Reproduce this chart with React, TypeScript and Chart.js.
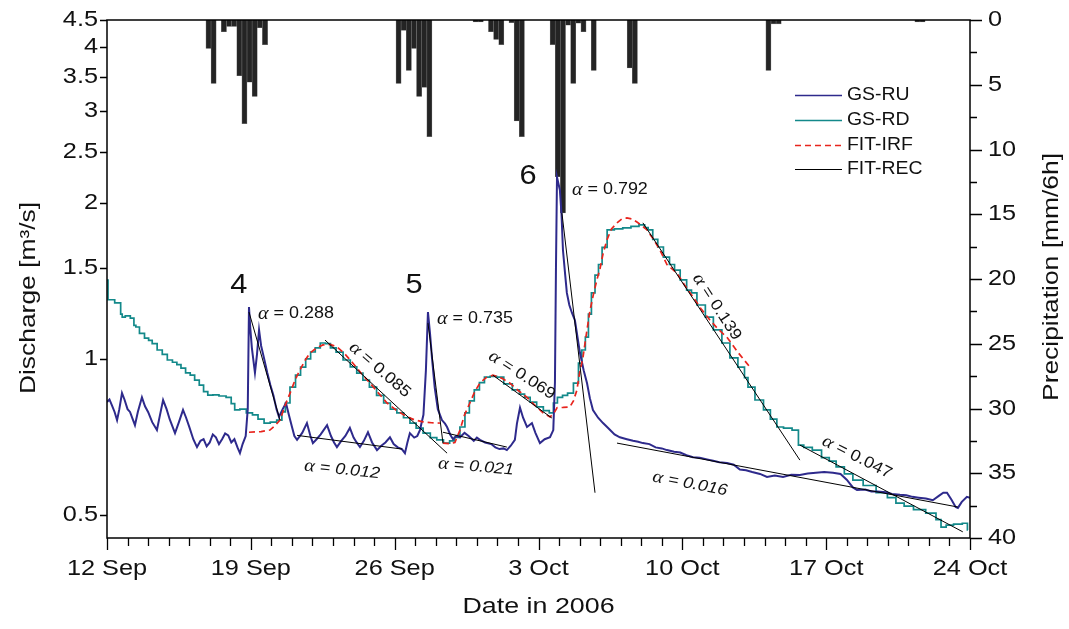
import React, { useEffect, useRef } from "react";
import { Chart, registerables } from "chart.js";

Chart.register(...registerables);

// ---- axes (x = days after 12 Sep 2006) ----
const dateTickDays = [0, 7, 14, 21, 28, 35, 42];
const dateTickLabels = ["12 Sep", "19 Sep", "26 Sep", "3 Oct", "10 Oct", "17 Oct", "24 Oct"];
const dischargeTicks = [0.5, 1, 1.5, 2, 2.5, 3, 3.5, 4, 4.5];
const precipTicks = [0, 5, 10, 15, 20, 25, 30, 35, 40];

// ---- precipitation [mm/6h] ----
const precipDays = [4.94, 5.19, 5.69, 5.94, 6.19, 6.44, 6.69, 6.94, 7.19, 7.44, 7.69,
  14.19, 14.44, 14.69, 14.94, 15.19, 15.44, 15.69,
  17.94, 18.19, 18.69, 18.94, 19.19, 19.69, 19.94, 20.19,
  21.69, 21.94, 22.19, 22.44, 22.69, 22.94, 23.19, 23.69,
  25.44, 25.69, 32.19, 32.44, 32.69, 39.44, 39.69];
const precipMm = [2.2, 4.9, 0.9, 0.5, 0.5, 4.3, 8.0, 4.8, 5.9, 0.6, 1.9,
  4.9, 0.8, 3.9, 2.2, 5.9, 5.2, 9.0,
  0.15, 0.15, 0.9, 1.5, 1.9, 0.2, 7.8, 9.0,
  1.9, 12.1, 14.9, 0.4, 4.9, 0.25, 0.9, 3.9,
  3.7, 4.9, 3.9, 0.3, 0.3, 0.15, 0.15];

// ---- GS-RU discharge ----
const ruDays = [0.00, 0.12, 0.25, 0.37, 0.49, 0.60, 0.73, 0.85, 1.00, 1.12, 1.25, 1.36, 1.50, 1.70, 1.85, 2.00, 2.20, 2.43, 2.58, 2.73, 2.90, 3.05, 3.31, 3.50, 3.70, 3.85, 4.00, 4.20, 4.38, 4.55, 4.70, 4.85, 5.00, 5.15, 5.30, 5.45, 5.60, 5.75, 5.90, 6.05, 6.20, 6.35, 6.47, 6.60, 6.75, 6.85, 6.91, 6.97, 7.05, 7.20, 7.30, 7.40, 7.50, 7.65, 7.80, 7.95, 8.10, 8.25, 8.37, 8.55, 8.71, 8.85, 9.00, 9.12, 9.25, 9.50, 9.73, 9.90, 10.02, 10.20, 10.40, 10.71, 10.90, 11.05, 11.19, 11.40, 11.60, 11.82, 12.00, 12.15, 12.31, 12.50, 12.70, 12.90, 13.14, 13.35, 13.55, 13.77, 13.95, 14.15, 14.35, 14.50, 14.62, 14.74, 14.95, 15.10, 15.23, 15.40, 15.52, 15.62, 15.72, 15.82, 15.95, 16.10, 16.30, 16.45, 16.55, 16.70, 16.84, 17.00, 17.18, 17.40, 17.60, 17.85, 18.00, 18.15, 18.40, 18.70, 18.90, 19.10, 19.30, 19.46, 19.65, 19.85, 19.95, 20.10, 20.25, 20.44, 20.55, 20.68, 20.85, 21.07, 21.30, 21.56, 21.72, 21.80, 21.85, 21.90, 22.04, 22.12, 22.19, 22.30, 22.38, 22.50, 22.63, 22.77, 22.90, 23.02, 23.20, 23.36, 23.50, 23.65, 23.90, 24.14, 24.40, 24.70, 24.96, 25.30, 25.60, 25.85, 26.08, 26.40, 26.70, 27.00, 27.25, 27.60, 27.90, 28.20, 28.52, 28.85, 29.20, 29.50, 29.80, 30.17, 30.50, 30.80, 31.10, 31.40, 31.78, 32.12, 32.50, 32.90, 33.30, 33.72, 34.10, 34.50, 34.90, 35.33, 35.70, 36.00, 36.30, 36.50, 36.90, 37.20, 37.50, 37.90, 38.20, 38.59, 38.90, 39.20, 39.50, 39.85, 40.19, 40.50, 40.70, 40.88, 41.10, 41.30, 41.41, 41.60, 41.85, 42.00];
const ruQ = [0.826, 0.835, 0.812, 0.790, 0.762, 0.800, 0.859, 0.835, 0.800, 0.790, 0.765, 0.745, 0.790, 0.843, 0.810, 0.790, 0.755, 0.729, 0.780, 0.833, 0.800, 0.765, 0.719, 0.755, 0.797, 0.770, 0.740, 0.700, 0.676, 0.695, 0.700, 0.678, 0.690, 0.715, 0.706, 0.685, 0.700, 0.718, 0.712, 0.690, 0.700, 0.675, 0.658, 0.685, 0.710, 0.800, 1.259, 1.150, 1.050, 0.940, 1.020, 1.137, 1.060, 1.000, 0.940, 0.890, 0.850, 0.800, 0.773, 0.800, 0.822, 0.780, 0.740, 0.710, 0.698, 0.720, 0.752, 0.710, 0.688, 0.700, 0.715, 0.745, 0.710, 0.690, 0.676, 0.695, 0.710, 0.736, 0.705, 0.690, 0.676, 0.695, 0.722, 0.690, 0.667, 0.680, 0.690, 0.706, 0.685, 0.675, 0.670, 0.658, 0.690, 0.719, 0.705, 0.710, 0.729, 0.780, 0.950, 1.231, 1.120, 1.000, 0.880, 0.800, 0.762, 0.750, 0.739, 0.715, 0.700, 0.710, 0.706, 0.720, 0.710, 0.695, 0.705, 0.698, 0.690, 0.685, 0.675, 0.670, 0.672, 0.667, 0.680, 0.698, 0.750, 0.805, 0.770, 0.739, 0.745, 0.752, 0.720, 0.688, 0.700, 0.706, 0.729, 0.900, 1.500, 2.240, 2.116, 1.900, 1.621, 1.450, 1.340, 1.270, 1.226, 1.188, 1.100, 1.026, 0.950, 0.898, 0.840, 0.797, 0.770, 0.752, 0.735, 0.715, 0.706, 0.700, 0.695, 0.692, 0.688, 0.685, 0.675, 0.672, 0.667, 0.662, 0.660, 0.652, 0.646, 0.645, 0.640, 0.636, 0.632, 0.630, 0.625, 0.612, 0.610, 0.605, 0.600, 0.592, 0.596, 0.592, 0.598, 0.597, 0.601, 0.603, 0.605, 0.603, 0.600, 0.585, 0.565, 0.559, 0.560, 0.555, 0.555, 0.553, 0.549, 0.547, 0.546, 0.542, 0.540, 0.538, 0.534, 0.545, 0.552, 0.552, 0.535, 0.518, 0.516, 0.530, 0.542, 0.540];

// ---- GS-RD discharge ----
const rdDays = [0.00, 0.10, 0.30, 0.45, 0.63, 0.70, 0.78, 1.00, 1.27, 1.35, 1.46, 1.70, 1.95, 2.10, 2.30, 2.58, 2.80, 3.07, 3.30, 3.50, 3.70, 3.95, 4.15, 4.38, 4.60, 4.80, 5.01, 5.30, 5.60, 5.99, 6.10, 6.33, 6.60, 6.96, 7.20, 7.50, 7.79, 8.10, 8.42, 8.60, 8.76, 9.05, 9.30, 9.54, 9.80, 10.02, 10.25, 10.51, 10.75, 11.00, 11.30, 11.68, 12.00, 12.31, 12.60, 12.94, 13.30, 13.63, 13.95, 14.26, 14.60, 14.89, 15.20, 15.57, 15.90, 16.20, 16.55, 16.80, 17.03, 17.32, 17.52, 17.75, 18.00, 18.25, 18.49, 18.80, 19.12, 19.50, 19.95, 20.20, 20.44, 20.75, 21.07, 21.40, 21.65, 21.80, 22.04, 22.30, 22.53, 22.87, 23.02, 23.20, 23.36, 23.50, 23.65, 23.85, 23.99, 24.20, 24.48, 24.90, 25.30, 25.70, 26.08, 26.25, 26.42, 26.70, 26.91, 27.25, 27.50, 27.74, 28.05, 28.37, 28.52, 28.90, 29.34, 29.68, 30.17, 30.46, 30.95, 31.10, 31.29, 31.78, 32.12, 32.45, 32.75, 33.10, 33.58, 33.72, 34.10, 34.55, 35.00, 35.30, 35.67, 36.10, 36.50, 37.10, 37.76, 38.20, 38.59, 39.00, 39.50, 40.19, 40.50, 40.68, 41.00, 41.40, 41.85, 41.90];
const rdQ = [1.419, 1.300, 1.300, 1.282, 1.282, 1.220, 1.204, 1.210, 1.198, 1.160, 1.152, 1.120, 1.096, 1.085, 1.070, 1.040, 1.020, 0.995, 0.985, 0.975, 0.960, 0.940, 0.930, 0.910, 0.890, 0.865, 0.851, 0.852, 0.848, 0.843, 0.820, 0.797, 0.800, 0.787, 0.780, 0.765, 0.752, 0.755, 0.762, 0.790, 0.822, 0.882, 0.930, 0.964, 1.000, 1.031, 1.050, 1.073, 1.070, 1.050, 1.030, 0.995, 0.965, 0.939, 0.910, 0.882, 0.850, 0.822, 0.800, 0.787, 0.770, 0.752, 0.735, 0.719, 0.705, 0.698, 0.688, 0.695, 0.706, 0.739, 0.787, 0.830, 0.871, 0.900, 0.922, 0.925, 0.922, 0.895, 0.871, 0.855, 0.843, 0.825, 0.808, 0.795, 0.787, 0.822, 0.843, 0.850, 0.859, 0.898, 0.981, 1.040, 1.101, 1.220, 1.340, 1.450, 1.520, 1.640, 1.772, 1.780, 1.788, 1.800, 1.812, 1.790, 1.772, 1.700, 1.643, 1.571, 1.520, 1.483, 1.420, 1.357, 1.340, 1.270, 1.204, 1.137, 1.073, 1.004, 0.964, 0.920, 0.882, 0.833, 0.797, 0.765, 0.739, 0.735, 0.729, 0.682, 0.675, 0.667, 0.645, 0.635, 0.619, 0.600, 0.584, 0.570, 0.552, 0.540, 0.527, 0.520, 0.512, 0.504, 0.490, 0.474, 0.478, 0.480, 0.482, 0.468];

// ---- FIT-IRF (null = break between events) ----
const irfDays = [6.91, 7.50, 7.93, 8.20, 8.42, 8.65, 8.91, 9.15, 9.39, 9.65, 9.88, 10.20, 10.51, 10.85, 11.19, 11.55, 11.97, 12.40, 12.80, 13.20, 13.63, 14.10, 14.60, 15.00, 15.38, 15.80, 16.20, 16.28,
  16.35, 16.70, 16.93, 17.18, 17.40, 17.66, 17.90, 18.15, 18.45, 18.78, 19.20, 19.61, 20.00, 20.44, 20.85, 21.22, 21.56, 21.75, 21.90, 22.20, 22.53, 22.70, 22.87, 23.00, 23.16, 23.32, 23.50, 23.67, 23.84, 23.99, 24.15, 24.33, 24.55, 24.82, 25.05, 25.30, 25.55, 25.79, 26.08, 26.28, 26.60, 26.91, 27.25, 27.74, 28.10, 28.52, 28.90, 29.34, 29.75, 30.17, 30.70, 31.29];
const irfQ = [0.722, 0.724, 0.729, 0.745, 0.762, 0.810, 0.859, 0.910, 0.952, 0.995, 1.026, 1.050, 1.064, 1.066, 1.055, 1.025, 0.981, 0.935, 0.898, 0.860, 0.822, 0.795, 0.773, 0.762, 0.756, 0.753, 0.752, null,
  0.688, 0.686, 0.690, 0.729, 0.780, 0.822, 0.865, 0.898, 0.920, 0.930, 0.918, 0.898, 0.870, 0.843, 0.812, 0.787, 0.773, 0.785, 0.805, 0.806, 0.808, 0.830, 0.871, 0.940, 1.004, 1.110, 1.236, 1.330, 1.419, 1.490, 1.600, 1.695, 1.780, 1.829, 1.860, 1.869, 1.860, 1.836, 1.800, 1.772, 1.700, 1.621, 1.520, 1.463, 1.390, 1.316, 1.250, 1.188, 1.140, 1.101, 1.030, 0.964];

// ---- FIT-REC recession lines (start -> end) ----
const recStartDay = [6.91, 9.25, 10.61, 15.62, 16.35, 18.78, 22.14, 26.08, 24.82, 33.72];
const recStartQ = [1.231, 0.712, 1.087, 1.172, 0.722, 0.930, 1.910, 1.829, 0.688, 0.682];
const recEndDay = [8.42, 14.36, 16.55, 16.35, 19.46, 21.65, 23.75, 33.72, 41.41, 41.65];
const recEndQ = [0.762, 0.670, 0.658, 0.688, 0.676, 0.769, 0.552, 0.638, 0.518, 0.464];

// ---- annotations ----
const eventNames = ["4", "5", "6"];
const eventDays = [6.42, 14.94, 20.49];
const eventQ = [1.388, 1.388, 2.25];

const alphaValues = ["0.288", "0.735", "0.792", "0.085", "0.012", "0.021", "0.069", "0.016", "0.139", "0.047"];
const alphaDays = [7.35, 16.06, 22.63, 13.28, 11.44, 17.96, 20.19, 28.37, 29.68, 36.50];
const alphaQ = [1.22, 1.194, 2.116, 0.952, 0.611, 0.619, 0.930, 0.574, 1.259, 0.646];
const alphaAngles = [0, 0, 0, 41, 6, 5, 33, 11, 57, 27];
const alphaItalic = [false, false, false, false, true, true, false, true, false, false];
const alphaCentered = [false, false, false, true, true, true, true, true, true, true];

const seriesNames = ["GS-RU", "GS-RD", "FIT-IRF", "FIT-REC"];

const NAVY = "#2e2a8c";
const TEAL = "#13898a";
const RED = "#e8241d";
const INK = "#111111";
const SANS = '"Liberation Sans", Arial, sans-serif';

function txt(ctx: CanvasRenderingContext2D, s: string, x: number, y: number, size: number, o: any = {}) {
  const { sx = 1.15, align = "center", baseline = "middle", angle = 0, italic = false } = o;
  ctx.save();
  ctx.translate(x, y);
  if (angle) ctx.rotate(angle);
  ctx.scale(sx, 1);
  ctx.font = `${italic ? "italic " : ""}${size}px ${SANS}`;
  ctx.textAlign = align;
  ctx.textBaseline = baseline;
  ctx.fillStyle = INK;
  ctx.fillText(s, 0, 0);
  ctx.restore();
}

function alphaLabel(ctx: CanvasRenderingContext2D, val: string, x: number, y: number, size: number, angleDeg: number, italic: boolean, centered: boolean) {
  ctx.save();
  ctx.translate(x, y);
  ctx.rotate((angleDeg * Math.PI) / 180);
  ctx.scale(1.12, 1);
  const fa = `italic ${Math.round(size * 1.15)}px "Liberation Serif", serif`;
  const fr = `${italic ? "italic " : ""}${size}px ${SANS}`;
  ctx.font = fa;
  const wa = ctx.measureText("α").width;
  const rest = " = " + val;
  ctx.font = fr;
  const wr = ctx.measureText(rest).width;
  const x0 = centered ? -(wa + wr) / 2 : 0;
  ctx.textBaseline = "middle";
  ctx.textAlign = "left";
  ctx.fillStyle = INK;
  ctx.font = fa;
  ctx.fillText("α", x0, 0);
  ctx.font = fr;
  ctx.fillText(rest, x0 + wa, 0);
  ctx.restore();
}

const framePlugin = {
  id: "frame",
  afterDraw(chart: any) {
    const { ctx, chartArea: a, scales } = chart;
    const sx = scales.x, sy = scales.y, sp = scales.yP;
    ctx.save();
    ctx.strokeStyle = "#000";
    ctx.lineWidth = 1.5;
    ctx.strokeRect(a.left, a.top, a.right - a.left, a.bottom - a.top);

    // x ticks (daily minor, weekly major)
    ctx.lineWidth = 1.3;
    ctx.beginPath();
    for (let d = 0; d <= 42; d++) {
      const px = Math.round(sx.getPixelForValue(d)) + 0.5;
      const len = d % 7 === 0 ? 12 : 8;
      ctx.moveTo(px, a.bottom);
      ctx.lineTo(px, a.bottom + len);
    }
    // left ticks
    dischargeTicks.forEach((v) => {
      const py = Math.round(sy.getPixelForValue(v)) + 0.5;
      ctx.moveTo(a.left, py);
      ctx.lineTo(a.left - 7, py);
    });
    // right ticks
    for (let v = 0; v <= 40; v += 2.5) {
      const py = Math.round(sp.getPixelForValue(v)) + 0.5;
      const len = v % 5 === 0 ? 12 : 7;
      ctx.moveTo(a.right, py);
      ctx.lineTo(a.right + len, py);
    }
    ctx.stroke();

    // tick labels
    dateTickDays.forEach((d, i) => txt(ctx, dateTickLabels[i], sx.getPixelForValue(d), a.bottom + 31, 22));
    dischargeTicks.forEach((v) => txt(ctx, String(v), a.left - 9, sy.getPixelForValue(v), 22, { align: "right" }));
    precipTicks.forEach((v) => txt(ctx, String(v), a.right + 18, sp.getPixelForValue(v), 22, { align: "left" }));

    // axis titles
    txt(ctx, "Date in 2006", (a.left + a.right) / 2, a.bottom + 69, 22, { sx: 1.22 });
    txt(ctx, "Discharge [m³/s]", 29, 298, 22, { angle: -Math.PI / 2, sx: 1.2 });
    txt(ctx, "Precipitation [mm/6h]", 1052, 277, 22, { angle: -Math.PI / 2, sx: 1.2 });

    // event numbers
    eventNames.forEach((n, i) => txt(ctx, n, sx.getPixelForValue(eventDays[i]), sy.getPixelForValue(eventQ[i]), 28, { sx: 1.1 }));

    // recession coefficients
    alphaValues.forEach((v, i) =>
      alphaLabel(ctx, v, sx.getPixelForValue(alphaDays[i]), sy.getPixelForValue(alphaQ[i]), 16, alphaAngles[i], alphaItalic[i], alphaCentered[i])
    );

    // legend
    const colors = [NAVY, TEAL, RED, "#000"];
    const rows = [95, 120, 145, 169];
    seriesNames.forEach((name, i) => {
      ctx.save();
      ctx.strokeStyle = colors[i];
      ctx.lineWidth = i === 3 ? 1 : 1.5;
      if (i === 2) ctx.setLineDash([6, 4]);
      ctx.beginPath();
      ctx.moveTo(795, rows[i] + 0.5);
      ctx.lineTo(842, rows[i] + 0.5);
      ctx.stroke();
      ctx.restore();
      txt(ctx, name, 847, rows[i], 18, { align: "left", sx: 1.08 });
    });
    ctx.restore();
  },
};

export default function App() {
  const ref = useRef<HTMLCanvasElement | null>(null);
  useEffect(() => {
    if (!ref.current) return;
    const recData: any[] = [];
    recStartDay.forEach((d, i) => {
      recData.push({ x: d, y: recStartQ[i] });
      recData.push({ x: recEndDay[i], y: recEndQ[i] });
      recData.push({ x: recEndDay[i], y: null });
    });
    const chart = new Chart(ref.current, {
      type: "line",
      data: {
        datasets: [
          {
            type: "bar",
            label: "Precipitation",
            data: precipDays.map((d, i) => ({ x: d, y: precipMm[i] })),
            xAxisID: "x",
            yAxisID: "yP",
            backgroundColor: "#242424",
            borderColor: "#6a6a6a",
            borderWidth: 0.6,
            barPercentage: 1,
            categoryPercentage: 1,
            order: 10,
          } as any,
          {
            label: seriesNames[1],
            data: rdDays.map((d, i) => ({ x: d, y: rdQ[i] })),
            yAxisID: "y",
            borderColor: TEAL,
            borderWidth: 1.7,
            pointRadius: 0,
            tension: 0,
            stepped: "middle",
            order: 4,
          } as any,
          {
            label: seriesNames[0],
            data: ruDays.map((d, i) => ({ x: d, y: ruQ[i] })),
            yAxisID: "y",
            borderColor: NAVY,
            borderWidth: 2,
            pointRadius: 0,
            tension: 0,
            order: 3,
          },
          {
            label: seriesNames[2],
            data: irfDays.map((d, i) => ({ x: d, y: irfQ[i] })),
            yAxisID: "y",
            borderColor: RED,
            borderWidth: 1.7,
            borderDash: [6, 4],
            pointRadius: 0,
            tension: 0,
            spanGaps: false,
            order: 2,
          },
          {
            label: seriesNames[3],
            data: recData,
            yAxisID: "y",
            borderColor: "#000",
            borderWidth: 1,
            pointRadius: 0,
            tension: 0,
            spanGaps: false,
            order: 1,
          },
        ],
      },
      options: {
        responsive: false,
        animation: false,
        devicePixelRatio: 1,
        events: [],
        layout: { padding: { left: 107, right: 99, top: 20, bottom: 91 } },
        plugins: { legend: { display: false }, tooltip: { enabled: false } },
        scales: {
          x: { type: "linear", min: 0, max: 42, display: false, offset: false },
          y: { type: "logarithmic", min: 0.4515, max: 4.5, display: false },
          yP: { type: "linear", min: 0, max: 40, reverse: true, display: false },
        },
      },
      plugins: [framePlugin],
    });
    return () => chart.destroy();
  }, []);

  return (
    <div style={{ position: "fixed", left: 0, top: 0, width: 1069, height: 629, background: "#fff" }}>
      <canvas ref={ref} width={1069} height={629} style={{ display: "block" }} />
    </div>
  );
}
